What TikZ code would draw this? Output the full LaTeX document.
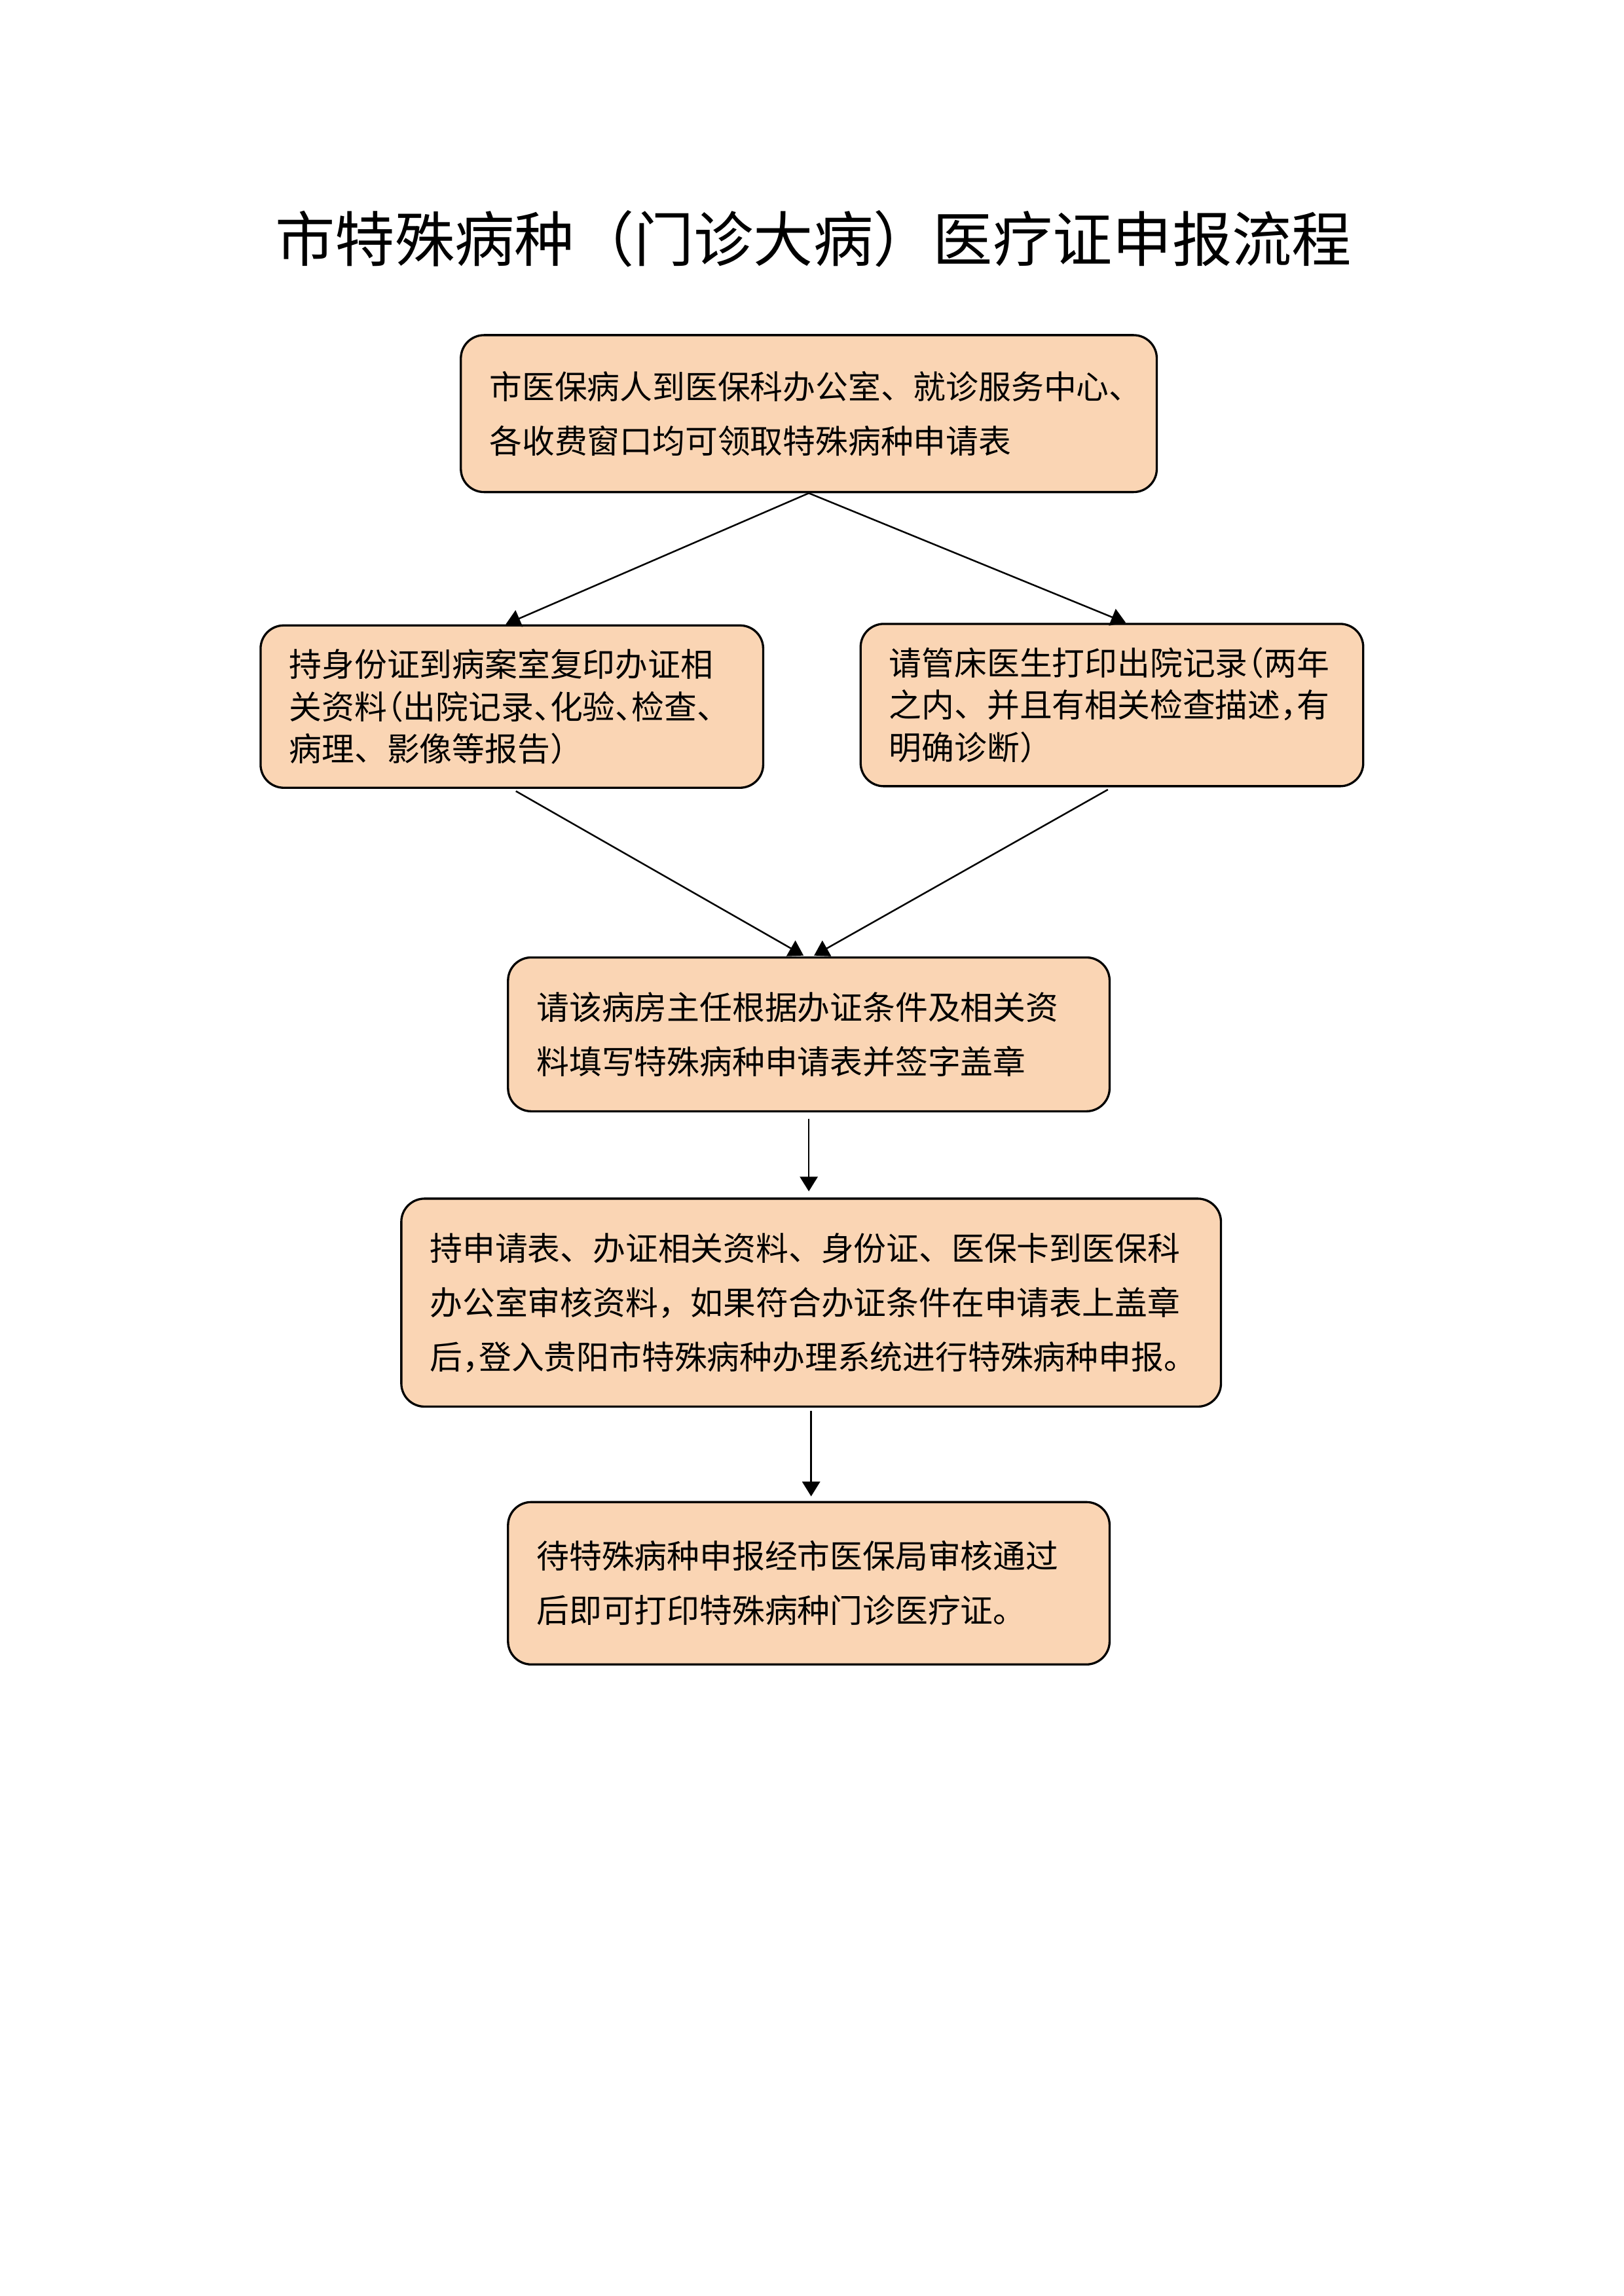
\documentclass[tikz,border=0pt]{standalone}
\usepackage{fontspec}
\setmainfont{Noto Sans CJK SC}
\usetikzlibrary{arrows.meta}

\definecolor{boxfill}{RGB}{250,213,180}
\newcommand{\halfl}[1]{\makebox[0.5em][l]{#1}} % compressed punctuation, glyph on the left
\newcommand{\halfr}[1]{\makebox[0.5em][r]{#1}} % compressed punctuation, glyph on the right

\tikzset{
    stepbox/.style={draw, line width=0.8pt, fill=boxfill, rounded corners=3mm,
        align=left, inner xsep=3.7mm, inner ysep=0pt,
        font=\fontsize{12pt}{20pt}\selectfont},
    tightbox/.style={stepbox, font=\fontsize{12pt}{15.6pt}\selectfont},
    flow/.style={-{Triangle[length=1.9mm,width=2.3mm]}, line width=0.6pt}
}

\begin{document}
\begin{tikzpicture}
    \useasboundingbox (0,0) rectangle (21,-29.7); % A4 page

    \node (title) at (10.52,-3.09) {\fontsize{22pt}{26pt}\selectfont 市特殊病种（门诊大病）医疗证申报流程}; % Title

    % Boxes of the procedure
    \node[stepbox, text width=8.26cm, minimum height=2.03cm] (apply) at (10.46,-5.35)
        {市医保病人到医保科办公室、就诊服务中心\halfl{、}\\各收费窗口均可领取特殊病种申请表};
    \node[tightbox, text width=5.76cm, minimum height=2.10cm] (copy) at (6.62,-9.14)
        {持身份证到病案室复印办证相\\关资料\halfr{（}出院记录\halfl{、}化验\halfl{、}检查、\\病理、影像等报告）};
    \node[tightbox, text width=5.76cm, minimum height=2.10cm] (record) at (14.38,-9.12)
        {请管床医生打印出院记录\halfr{（}两年\\之内、并且有相关检查描述\halfl{，}有\\明确诊断）};
    \node[stepbox, text width=7.04cm, minimum height=1.99cm] (sign) at (10.46,-13.38)
        {请该病房主任根据办证条件及相关资\\料填写特殊病种申请表并签字盖章};
    \node[stepbox, text width=9.86cm, minimum height=2.69cm] (audit) at (10.49,-16.85)
        {持申请表、办证相关资料、身份证、医保卡到医保科\\办公室审核资料，如果符合办证条件在申请表上盖章\\后\halfl{，}登入贵阳市特殊病种办理系统进行特殊病种申报\halfl{。}};
    \node[stepbox, text width=7.04cm, minimum height=2.10cm] (print) at (10.46,-20.48)
        {待特殊病种申报经市医保局审核通过\\后即可打印特殊病种门诊医疗证。};

    % Arrows
    \draw[flow] (apply.south) -- ([xshift=-0.8mm]copy.north);
    \draw[flow] (apply.south) -- ([xshift=1.8mm]record.north);
    \draw[flow, shorten <=0.6mm, shorten >=0.2mm] (copy.south) -- ([xshift=-0.5mm]sign.north);
    \draw[flow, shorten <=0.6mm, shorten >=0.2mm] (record.south) -- ([xshift=0.5mm]sign.north);
    \draw[flow, shorten <=0.8mm, shorten >=0.8mm] (sign.south) -- (sign.south |- audit.north);
    \draw[flow, shorten <=0.4mm, shorten >=0.6mm] (audit.south) -- (audit.south |- print.north);
\end{tikzpicture}
\end{document}
